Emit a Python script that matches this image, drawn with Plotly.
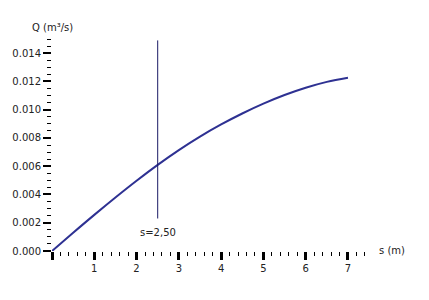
import plotly.graph_objects as go

# Data
s_vals = [0, 0.5, 1.0, 1.5, 2.0, 2.5, 3.0, 3.5, 4.0, 4.5, 5.0, 5.5, 6.0, 6.5, 7.0]
q_vals = [0.0, 0.00129, 0.002555, 0.003785, 0.00497, 0.006095, 0.00714, 0.008095, 0.008955,
          0.00973, 0.010425, 0.011035, 0.01155, 0.011965, 0.012255]
s_marker = 2.5
marker_label = "s=2,50"
marker_y = [0.0023, 0.0149]
x_tickvals = [0, 1, 2, 3, 4, 5, 6, 7]
x_ticktext = ["", "1", "2", "3", "4", "5", "6", "7"]
y_tickvals = [0.000, 0.002, 0.004, 0.006, 0.008, 0.010, 0.012, 0.014]
y_ticktext = ["0.000", "0.002", "0.004", "0.006", "0.008", "0.010", "0.012", "0.014"]
x_title = "s (m)"
y_title = "Q (m³/s)"

FONT = "DejaVu Sans"
TXT = "#222222"

fig = go.Figure()
fig.add_trace(go.Scatter(x=s_vals, y=q_vals, mode="lines",
                         line=dict(color="#2e3192", width=2, shape="spline"),
                         hoverinfo="skip", cliponaxis=False))
fig.add_trace(go.Scatter(x=[s_marker, s_marker], y=marker_y, mode="lines",
                         line=dict(color="#1a1a66", width=1),
                         hoverinfo="skip", cliponaxis=False))

fig.update_layout(
    width=429, height=300,
    margin=dict(l=50, r=62, t=39, b=49),
    paper_bgcolor="white", plot_bgcolor="white",
    showlegend=False,
    font=dict(family=FONT, size=10, color=TXT),
    xaxis=dict(range=[0, 7.45], showgrid=False, zeroline=False, showline=False,
               tickmode="array", tickvals=x_tickvals, ticktext=x_ticktext,
               ticks="outside", ticklen=8, tickwidth=3, tickcolor="black",
               minor=dict(dtick=0.2, tick0=0, ticks="outside", ticklen=4, tickwidth=1,
                          tickcolor="black", showgrid=False),
               tickfont=dict(family=FONT, size=10, color=TXT)),
    yaxis=dict(range=[0, 0.015], showgrid=False, zeroline=False, showline=False,
               tickmode="array", tickvals=y_tickvals, ticktext=y_ticktext,
               ticks="outside", ticklen=8, tickwidth=2, tickcolor="black",
               minor=dict(dtick=0.0005, tick0=0, ticks="outside", ticklen=4, tickwidth=1,
                          tickcolor="black", showgrid=False),
               tickfont=dict(family=FONT, size=10, color=TXT)),
    annotations=[
        dict(x=s_marker, y=0.00134, xref="x", yref="y", text=marker_label, showarrow=False,
             xanchor="center", yanchor="middle", font=dict(family=FONT, size=10, color=TXT)),
        dict(x=1.0315, y=0.0, xref="paper", yref="paper", text=x_title, showarrow=False,
             xanchor="left", yanchor="middle", yshift=1, font=dict(family=FONT, size=10, color=TXT)),
        dict(x=0.0, y=1.0566, xref="paper", yref="paper", text=y_title, showarrow=False,
             xanchor="center", yanchor="middle", font=dict(family=FONT, size=10, color=TXT)),
    ],
)

fig.write_html("out.html")
